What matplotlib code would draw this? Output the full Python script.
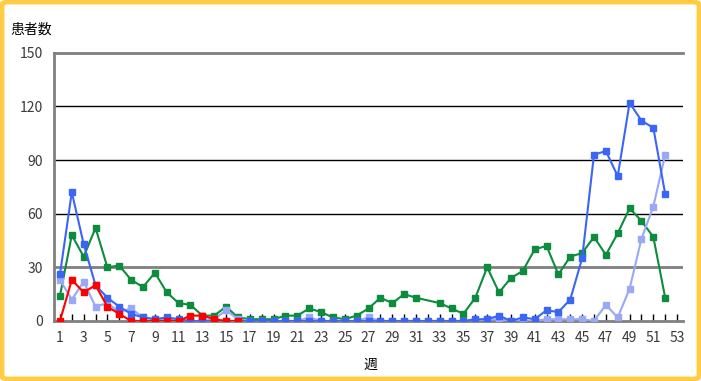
import matplotlib
matplotlib.use("Agg")
import matplotlib.pyplot as plt
import numpy as np
from matplotlib.patches import FancyBboxPatch

plt.rcParams["font.family"] = ["Noto Sans CJK JP", "DejaVu Sans"]

weeks = np.arange(1, 53)
blue = [26, 72, 43, 20, 13, 8, 4, 2, 1, 2,
        1, 0, 0, 0, 0, 0, 0, 0, 0, 0,
        0, 0, 0, 0, 0, 0, 0, 0, 0, 0,
        0, 0, 0, 0, 0, 1, 1, 3, 0, 2,
        1, 6, 5, 12, 35, 93, 95, 81, 122, 112,
        108, 71]
light = [23, 12, 22, 8, 10, 5, 7, 2, 1, 1,
         0, 0, 0, 1, 6, 1, 0, 0, 0, 0,
         0, 2, 0, 0, 0, 0, 2, 0, 0, 0,
         0, 0, 0, 0, 0, 0, 1, 1, 0, 0,
         0, 1, 1, 1, 1, 0, 9, 2, 18, 46,
         64, 93]
green = [14, 48, 36, 52, 30, 31, 23, 19, 27, 16,
         10, 9, 3, 3, 8, 2, 1, 1, 1, 3,
         3, 7, 5, 2, 1, 3, 7, 13, 10, 15,
         13, np.nan, 10, 7, 4, 13, 30, 16, 24, 28,
         40, 42, 26, 36, 38, 47, 37, 49, 63, 56,
         47, 13]
red_weeks = np.arange(1, 17)
red = [0, 23, 16, 20, 8, 4, 0, 0, 0, 0, 0, 3, 3, 1, 0, 0]

fig = plt.figure(figsize=(7.01, 3.81), dpi=100)
ax = fig.add_axes([54 / 701, 60 / 381, 629 / 701, 268.3 / 381])

for y, c, lw in [(30, "#808080", 2), (60, "k", 1), (90, "k", 1), (120, "k", 1)]:
    ax.axhline(y, color=c, lw=lw, zorder=1)

g = np.array(green, dtype=float)
m = ~np.isnan(g)
mk = dict(marker="s", ms=4.8, lw=1.5, zorder=3)
ax.plot(weeks[m], g[m], color="#0E8C3E", **mk)
ax.plot(weeks, light, color="#99A9F5", **mk)
ax.plot(weeks, blue, color="#3B66F5", **mk)
ax.plot(red_weeks, red, color="#FF0000", **mk)

ax.set_xlim(0.5, 53.5)
ax.set_ylim(0, 150)
ax.set_xticks(np.arange(1, 54, 2))
ax.set_xticks(np.arange(1, 54), minor=True)
ax.set_yticks([0, 30, 60, 90, 120, 150])
ax.tick_params(axis="x", which="both", direction="in", length=5, width=1,
               color="k", pad=7, labelsize=10, labelcolor="#3a3a3a")
ax.tick_params(axis="y", length=0, pad=8, labelsize=10, labelcolor="#3a3a3a")

for s in ["left", "bottom", "top"]:
    ax.spines[s].set_color("#808080")
    ax.spines[s].set_linewidth(2)
ax.spines["right"].set_visible(False)
for sp in ax.spines.values():
    sp.set_zorder(2)

fig.text(10 / 701, 1 - 30 / 381, "患者数", fontsize=10, va="center", ha="left")
fig.text(370 / 701, 1 - 365 / 381, "週", fontsize=10, va="center", ha="center")

frame = FancyBboxPatch((2 / 701, 2 / 381), 697 / 701, 377 / 381,
                       boxstyle="round,pad=0,rounding_size=0.008",
                       transform=fig.transFigure, fill=False,
                       edgecolor="#FFCC44", lw=3.5)
fig.patches.append(frame)

fig.savefig("out.png", dpi=100)
